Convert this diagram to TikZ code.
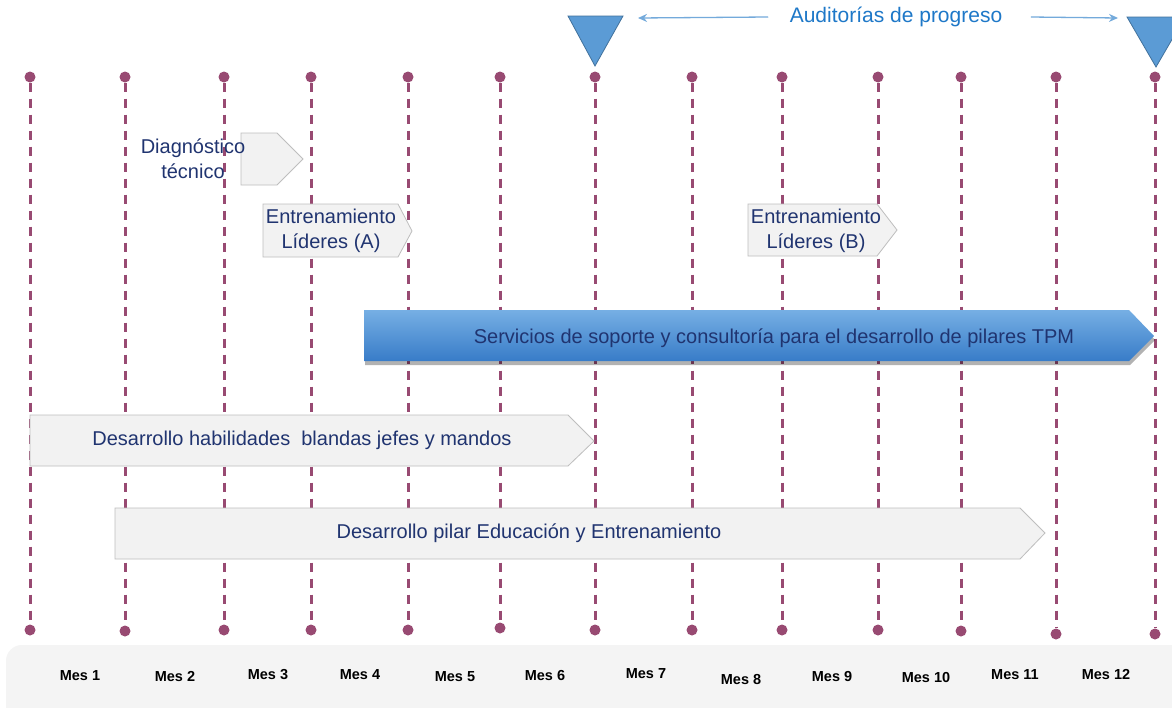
\documentclass[tikz,border=0pt]{standalone}
\usepackage{fontspec}
\setmainfont{Liberation Sans}
\usetikzlibrary{positioning, shadows, arrows.meta}

\definecolor{plum}{RGB}{152,74,114}
\definecolor{navy}{RGB}{32,52,112}
\definecolor{barfill}{RGB}{242,242,242}
\definecolor{baredge}{RGB}{190,190,190}
\definecolor{audfill}{RGB}{91,155,213}
\definecolor{audedge}{RGB}{65,113,156}
\definecolor{audtext}{RGB}{30,120,200}
\definecolor{bluetop}{RGB}{118,175,228}
\definecolor{bluebot}{RGB}{56,124,200}
\definecolor{panel}{RGB}{244,244,244}

\begin{document}
\begin{tikzpicture}[x=1pt, y=-1pt,
mesdot/.style={circle, fill=plum, inner sep=0pt, minimum size=11pt},
mesline/.style={draw=plum, line width=3pt, dash pattern=on 9pt off 7pt},
greybar/.style={draw=baredge, fill=barfill, line width=0.8pt},
bluebar/.style={top color=bluetop, bottom color=bluebot, draw=none,
  drop shadow={shadow xshift=1pt, shadow yshift=-4pt, opacity=0.3, fill=black}},
bartext/.style={text=navy, align=center, font=\fontsize{20}{25}\selectfont},
mestext/.style={font=\fontsize{14.5}{16}\selectfont\bfseries},
audit/.style={fill=audfill, draw=audedge, line width=0.8pt},
toaudit/.style={-{Stealth[length=9pt,width=8pt]}, line width=1.3pt, draw=audfill!85!white},
]
\clip (0,0) rectangle (1172,707);
\fill[white] (0,0) rectangle (1172,707);
%month panel
\fill[panel, rounded corners=16pt] (6,645) rectangle (1220,760);
\foreach \x/\y/\m in {80/676/1, 175/676/2, 268/675/3, 360/675/4, 455/677/5, 545/675/6,
  646/674/7, 741/679/8, 832/676/9, 926/677/10, 1015/675/11, 1106/674/12}
  \node[mestext] (mes\m) at (\x,\y) {Mes \m};
%time lines
\foreach \x/\yb [count=\i] in {30/630, 125/631, 224/630, 311/630, 408/630, 500/628, 595/630,
  692/630, 782/630, 878/630, 961/631, 1056/634, 1155/634}{
  \node[mesdot] (top\i) at (\x,77) {};
  \node[mesdot] (bot\i) at (\x,\yb) {};
  \draw[mesline] (top\i) -- (bot\i);
}
%audits
\draw[audit] (568,16) -- (623,16) -- (595,66) -- cycle;
\draw[audit] (1127,17) -- (1185,17) -- (1156,67) -- cycle;
\node[text=audtext, font=\fontsize{21}{25}\selectfont] (aud) at (896,17) {Auditorías de progreso};
\coordinate (audl) at (638,18);
\coordinate (audr) at (1118,18);
\draw[toaudit] (aud.west) ++(-18,0) -- (audl);
\draw[toaudit] (aud.east) ++(25,0) -- (audr);
%activities
\draw[greybar] (241,133) -- (277,133) -- (303,159) -- (277,185) -- (241,185) -- cycle;
\node[bartext] (diag) at (193,159) {Diagnóstico\\técnico};
\draw[greybar] (263,204) -- (398,204) -- (412,231) -- (398,257) -- (263,257) -- cycle;
\node[bartext] (lidA) at (331,231) {Entrenamiento\\Líderes (A)};
\draw[greybar] (748,204) -- (877,204) -- (897,230) -- (877,256) -- (748,256) -- cycle;
\node[bartext] (lidB) at (816,231) {Entrenamiento\\Líderes (B)};
\path[bluebar] (364,310) -- (1129,310) -- (1154,336) -- (1129,361) -- (364,361) -- cycle;
\node[bartext] (tpm) at (774,338) {Servicios de soporte y consultoría para el desarrollo de pilares TPM};
\draw[greybar] (30,415) -- (568,415) -- (594,441) -- (568,466) -- (30,466) -- cycle;
\node[bartext] (blandas) at (302,440) {Desarrollo habilidades\ \ blandas jefes y mandos};
\draw[greybar] (115,508) -- (1020,508) -- (1045,533) -- (1020,559) -- (115,559) -- cycle;
\node[bartext] (pilar) at (529,533) {Desarrollo pilar Educación y Entrenamiento};
\end{tikzpicture}
\end{document}
